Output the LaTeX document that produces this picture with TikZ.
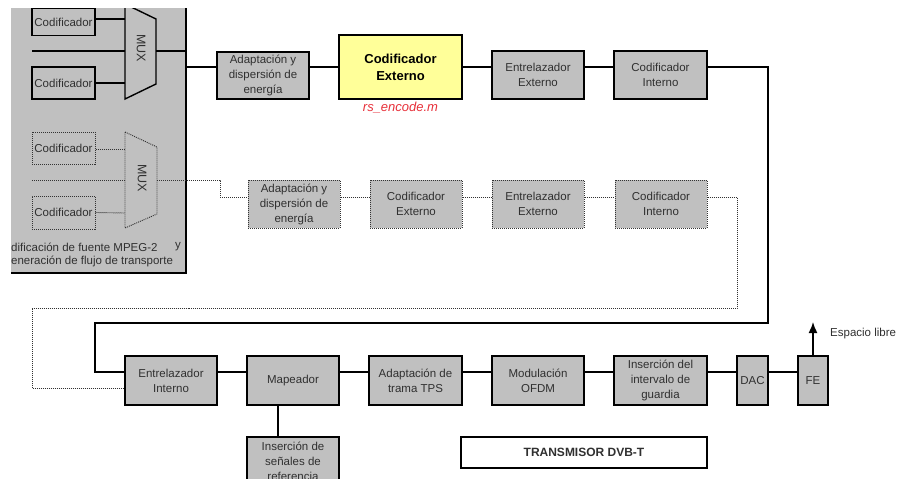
\documentclass[tikz,border=0pt]{standalone}
\usepackage{fontspec}
\setmainfont{Liberation Sans}
\usetikzlibrary{arrows.meta}
\definecolor{boxgray}{HTML}{C0C0C0}
\definecolor{boxyellow}{HTML}{FFFF99}
\definecolor{txtgray}{HTML}{303030}
\definecolor{linkred}{HTML}{E8303A}

\begin{document}
\begin{tikzpicture}[x=1pt,y=-1pt,
  lbl/.style={text=txtgray, font=\fontsize{11.5}{15}\selectfont},
  blk/.style={draw=black, line width=1.6pt, fill=boxgray, text=txtgray, align=center,
    inner sep=0pt, font=\fontsize{11.5}{15}\selectfont},
  dblk/.style={draw=black!80, line width=1pt, dash pattern=on 1pt off 1pt, fill=boxgray,
    text=txtgray, align=center, inner sep=0pt, font=\fontsize{11.5}{15}\selectfont},
  wire/.style={line width=1.5pt, black},
  dwire/.style={line width=0.9pt, black!80, dash pattern=on 1pt off 1pt},
  muxtxt/.style={text=txtgray, rotate=-90, font=\fontsize{12.5}{14}\selectfont, inner sep=0pt},
]
\useasboundingbox (0,0) rectangle (897,479);
\fill[white] (0,0) rectangle (897,479);

\begin{scope}
\clip (11,8) rectangle (897,479);

% ---- source coding / transport stream block
\fill[boxgray] (11,0) rectangle (186,273);
\draw[line width=1.4pt] (186,0) -- (186,273) -- (11,273);

% active branch
\node[blk, minimum width=63pt, minimum height=27pt] (c1) at (63.5,22) {Codificador};
\node[blk, minimum width=63pt, minimum height=32pt] (c2) at (63.5,83) {Codificador};
\draw[line width=1.4pt, fill=boxgray] (125,4) coordinate (m1tl) -- (156,19) -- (156,84) -- (125,99) -- cycle;
\coordinate (m1out) at (156,51);
\coordinate (m1in) at (32,51);
\node[muxtxt] (mux1) at (141,48) {MUX};
\draw[wire] (c1.east |- 0,19) -- (125,19);
\draw[wire] (c2.east) -- (125,83);
\draw[wire] (m1in) -- (125,51);
\draw[wire] (m1out) -- (186,51);

% hierarchical branch
\node[dblk, minimum width=63pt, minimum height=32pt] (c3) at (63.5,148) {Codificador};
\node[dblk, minimum width=63pt, minimum height=33pt] (c4) at (63.5,212.5) {Codificador};
\draw[dwire, fill=boxgray] (125,132) -- (157,147) -- (157,214) -- (125,228) -- cycle;
\coordinate (m2out) at (157,180);
\coordinate (m2in) at (32,180);
\node[muxtxt] (mux2) at (142,178) {MUX};
\draw[dwire] (c3.east |- 0,149) -- (125,149);
\draw[dwire] (c4.east) -- (125,213);
\draw[dwire] (m2in) -- (125,180);

\node[lbl, anchor=west, inner sep=0pt] (src1) at (11,247) {dificación de fuente MPEG-2};
\node[lbl, anchor=west, inner sep=0pt] (srcy) at (175,247) {y};
\node[lbl, anchor=west, inner sep=0pt] (src2) at (11,261) {eneración de flujo de transporte};

% ---- top chain
\coordinate (r1) at (0,67);
\node[blk, minimum width=92pt, minimum height=47pt] (ad1) at (263,75.5) {Adaptación y\\dispersión de\\energía};
\node[blk, fill=boxyellow, text=black, minimum width=123pt, minimum height=64pt,
  font=\bfseries\fontsize{13}{17}\selectfont] (ce1) at (400.5,67) {Codificador\\Externo};
\node[text=linkred, font=\itshape\fontsize{13}{15}\selectfont] (rs) at (400.5,108) {rs\_encode.m};
\node[blk, minimum width=92pt, minimum height=48pt] (ee1) at (538,75) {Entrelazador\\Externo};
\node[blk, minimum width=93pt, minimum height=48pt] (ci1) at (660.5,75) {Codificador\\Interno};

\draw[wire] (186,67) -- (ad1.west |- r1);
\draw[wire] (ad1.east |- r1) -- (ce1.west |- r1);
\draw[wire] (ce1.east |- r1) -- (ee1.west |- r1);
\draw[wire] (ee1.east |- r1) -- (ci1.west |- r1);

% ---- dotted chain
\coordinate (r2) at (0,197);
\node[dblk, minimum width=92pt, minimum height=48pt] (ad2) at (294,204) {Adaptación y\\dispersión de\\energía};
\node[dblk, minimum width=92pt, minimum height=48pt] (ce2) at (416,204) {Codificador\\Externo};
\node[dblk, minimum width=92pt, minimum height=48pt] (ee2) at (538,204) {Entrelazador\\Externo};
\node[dblk, minimum width=92pt, minimum height=48pt] (ci2) at (661,204) {Codificador\\Interno};

\draw[dwire] (m2out) -- (220,180) -- (220,197) -- (ad2.west |- r2);
\draw[dwire] (ad2.east |- r2) -- (ce2.west |- r2);
\draw[dwire] (ce2.east |- r2) -- (ee2.west |- r2);
\draw[dwire] (ee2.east |- r2) -- (ci2.west |- r2);

% ---- bottom chain
\coordinate (r3) at (0,372);
\node[blk, minimum width=92pt, minimum height=49pt] (ei) at (171,380.5) {Entrelazador\\Interno};
\node[blk, minimum width=92pt, minimum height=49pt] (map) at (293,380.5) {Mapeador};
\node[blk, minimum width=93pt, minimum height=49pt] (tps) at (415.5,380.5) {Adaptación de\\trama TPS};
\node[blk, minimum width=92pt, minimum height=49pt] (ofdm) at (538,380.5) {Modulación\\OFDM};
\node[blk, minimum width=93pt, minimum height=49pt] (ig) at (660.5,380.5) {Inserción del\\intervalo de\\guardia};
\node[blk, minimum width=31pt, minimum height=49pt] (dac) at (752.5,380.5) {DAC};
\node[blk, minimum width=30pt, minimum height=49pt] (fe) at (813,380.5) {FE};
\node[blk, minimum width=92pt, minimum height=50pt, anchor=north] (ref) at (293,436) {Inserción de\\señales de\\referencia};

\draw[wire] (ci1.east |- r1) -- (768,67) -- (768,323) -- (95,323) -- (95,372) -- (ei.west |- r3);
\draw[dwire] (ci2.east |- r2) -- (737,197) -- (737,308) -- (32,308) -- (32,388) -- (ei.west |- 0,388);

\draw[wire] (ei.east |- r3) -- (map.west |- r3);
\draw[wire] (map.east |- r3) -- (tps.west |- r3);
\draw[wire] (tps.east |- r3) -- (ofdm.west |- r3);
\draw[wire] (ofdm.east |- r3) -- (ig.west |- r3);
\draw[wire] (ig.east |- r3) -- (dac.west |- r3);
\draw[wire] (dac.east |- r3) -- (fe.west |- r3);
\draw[wire] (map.south -| 278,0) -- (ref.north -| 278,0);

\coordinate (air) at (813,322);
\draw[wire, -{Latex[length=11pt,width=9pt]}] (fe.north) -- (air);
\node[lbl, anchor=west, inner sep=0pt] (esp) at (830,334) {Espacio libre};

\node[draw=black, line width=1.5pt, fill=white, minimum width=246pt, minimum height=31pt,
  font=\bfseries\fontsize{12}{14}\selectfont, text=txtgray] (tx) at (584,452.5) {TRANSMISOR DVB-T};
\end{scope}
\end{tikzpicture}
\end{document}
